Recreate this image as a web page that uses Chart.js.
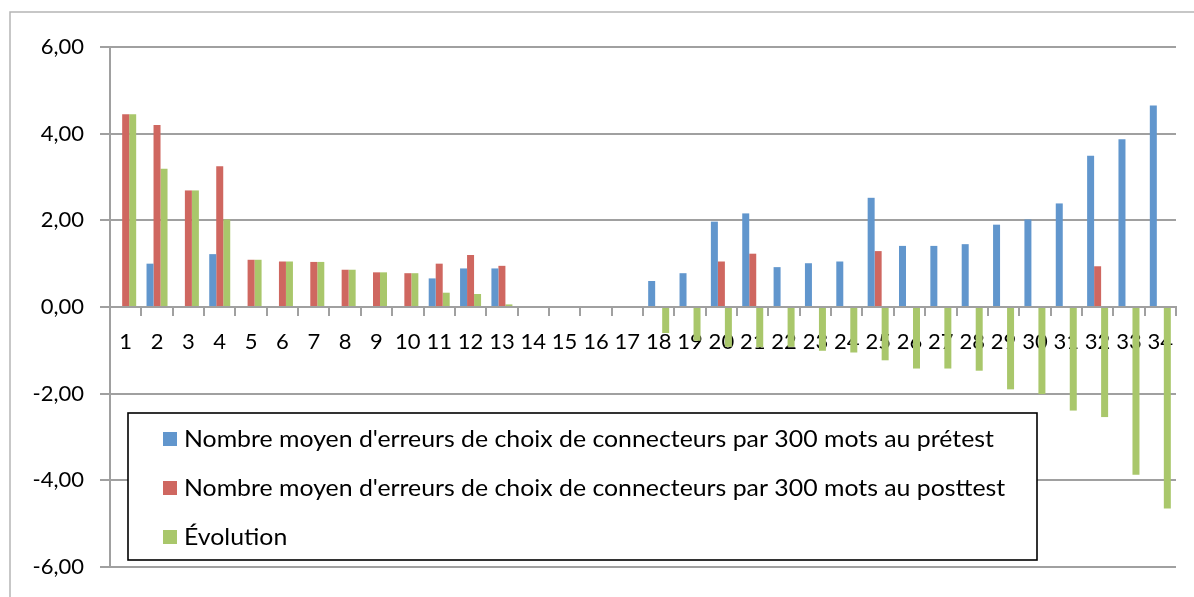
<!DOCTYPE html>
<html>
<head>
<meta charset="utf-8">
<script src="https://cdn.jsdelivr.net/npm/chart.js@4/dist/chart.umd.min.js"></script>
<style>
  html, body { margin: 0; padding: 0; background: #fff; }
  #wrap { width: 1194px; height: 597px; position: relative; }
</style>
</head>
<body>
<div id="wrap"><canvas id="c" width="1194" height="597"></canvas></div>
<script>
const categories = ["1","2","3","4","5","6","7","8","9","10","11","12","13","14","15","16","17","18","19","20","21","22","23","24","25","26","27","28","29","30","31","32","33","34"];
const pretest = [0, 1.00, 0, 1.22, 0, 0, 0, 0, 0, 0, 0.66, 0.89, 0.89, 0, 0, 0, 0, 0.60, 0.78, 1.97, 2.16, 0.92, 1.01, 1.05, 2.52, 1.41, 1.41, 1.45, 1.90, 2.02, 2.39, 3.49, 3.87, 4.65];
const posttest = [4.45, 4.20, 2.69, 3.25, 1.09, 1.05, 1.04, 0.86, 0.80, 0.78, 1.00, 1.20, 0.95, 0, 0, 0, 0, 0, 0, 1.05, 1.23, 0, 0, 0, 1.29, 0, 0, 0, 0, 0, 0, 0.94, 0, 0];
const evolution = [4.45, 3.19, 2.69, 2.02, 1.09, 1.05, 1.04, 0.86, 0.80, 0.78, 0.33, 0.30, 0.06, 0, 0, 0, 0, -0.60, -0.78, -0.92, -0.93, -0.92, -1.01, -1.05, -1.23, -1.42, -1.42, -1.47, -1.90, -2.01, -2.39, -2.54, -3.87, -4.65];
const seriesNames = [
  "Nombre moyen d'erreurs de choix de connecteurs par 300 mots au prétest",
  "Nombre moyen d'erreurs de choix de connecteurs par 300 mots au posttest",
  "Évolution"
];
const yTicks = [-6, -4, -2, 0, 2, 4, 6];

const FONT = 'Lato, "Open Sans", sans-serif';
const GRID = '#a0a0a0';

const frame = {
  id: 'frame',
  beforeDraw(chart) {
    const ctx = chart.ctx;
    ctx.save();
    ctx.strokeStyle = '#b5b5b5';
    ctx.lineWidth = 1.5;
    ctx.beginPath();
    ctx.moveTo(1194, 12);
    ctx.lineTo(10, 12);
    ctx.lineTo(10, 597);
    ctx.stroke();
    ctx.restore();
  }
};

const boxLegend = {
  id: 'boxLegend',
  afterDraw(chart) {
    const ctx = chart.ctx;
    const x0 = 128, y0 = 413, w = 909, h = 147;
    ctx.save();
    ctx.fillStyle = '#fff';
    ctx.fillRect(x0, y0, w, h);
    ctx.strokeStyle = '#000';
    ctx.lineWidth = 1.6;
    ctx.strokeRect(x0, y0, w, h);
    ctx.font = '23px ' + FONT;
    ctx.textBaseline = 'middle';
    ctx.textAlign = 'left';
    chart.data.datasets.forEach((ds, i) => {
      const cy = 439 + i * 49;
      ctx.fillStyle = ds.backgroundColor;
      ctx.fillRect(163, cy - 7, 14, 14);
      ctx.save();
      ctx.translate(184, cy + 1);
      ctx.scale(1.08, 1);
      ctx.fillStyle = '#000';
      ctx.fillText(ds.label, 0, 0);
      ctx.restore();
    });
    ctx.restore();
  }
};

new Chart(document.getElementById('c'), {
  type: 'bar',
  data: {
    labels: categories,
    datasets: [
      { label: seriesNames[0], data: pretest, backgroundColor: '#6196CD' },
      { label: seriesNames[1], data: posttest, backgroundColor: '#CF6760' },
      { label: seriesNames[2], data: evolution, backgroundColor: '#A9C76B' }
    ]
  },
  options: {
    responsive: false,
    animation: false,
    devicePixelRatio: 1,
    categoryPercentage: 0.67,
    barPercentage: 1.0,
    layout: { padding: { top: 47, right: 18, bottom: 30, left: 0 } },
    plugins: { legend: { display: false }, tooltip: { enabled: false } },
    scales: {
      x: {
        position: { y: 0 },
        afterFit(s) { s.height = 0; },
        grid: { offset: true, drawOnChartArea: false, drawTicks: true, tickLength: 8, color: GRID, lineWidth: 2 },
        border: { display: true, color: GRID, width: 2 },
        ticks: { color: '#000', font: { family: FONT, size: 22 }, padding: 14, maxRotation: 0, autoSkip: false }
      },
      y: {
        min: -6, max: 6,
        afterFit(s) { s.width = 110; },
        afterBuildTicks(s) { s.ticks = yTicks.map(v => ({ value: v })); },
        grid: { color: GRID, lineWidth: 2, tickLength: 10 },
        border: { display: true, color: GRID, width: 2 },
        ticks: {
          color: '#000', font: { family: FONT, size: 22 }, padding: 16,
          callback: v => v.toFixed(2).replace('.', ',')
        }
      }
    }
  },
  plugins: [frame, boxLegend]
});
</script>
</body>
</html>
